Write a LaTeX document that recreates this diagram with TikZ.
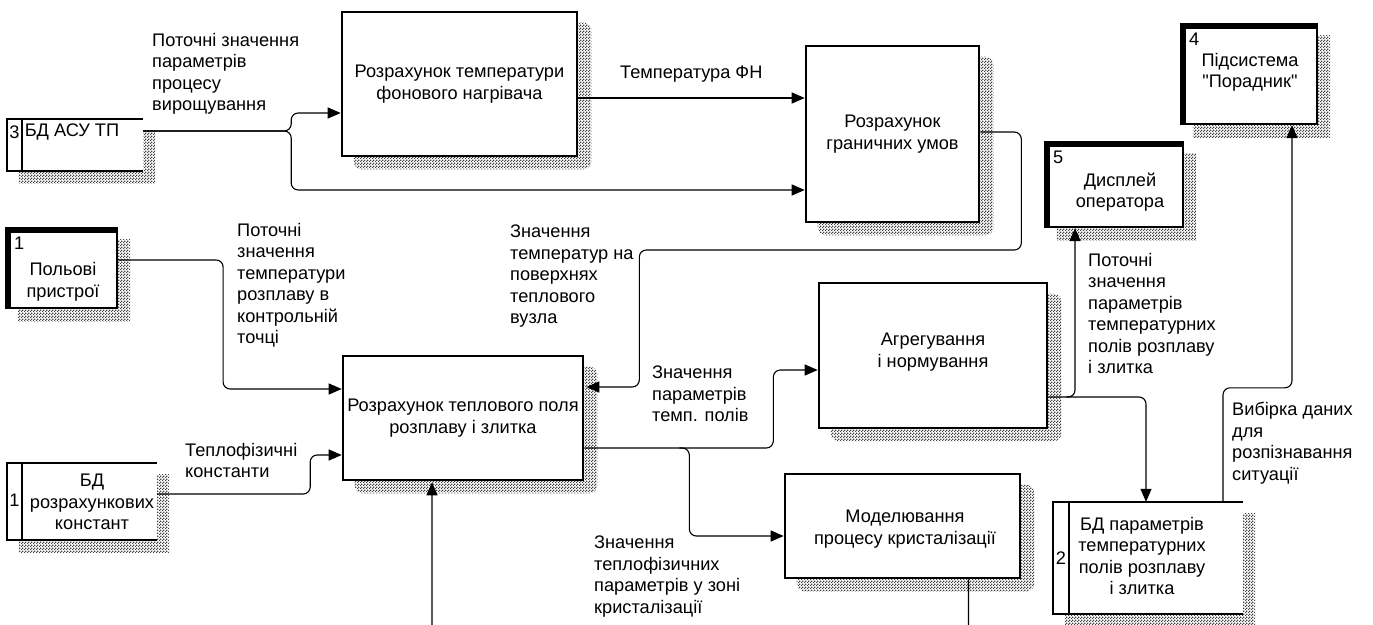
\documentclass[tikz,border=0pt]{standalone}
\usepackage{fontspec}
\setmainfont{Liberation Sans}[Ligatures=TeXOff]
\usetikzlibrary{arrows.meta,patterns,backgrounds}

% fine chequered fill used for the drop shadows
\pgfdeclarepatternformonly{shadowdots}{\pgfqpoint{0pt}{0pt}}{\pgfqpoint{3pt}{3pt}}{\pgfqpoint{3pt}{3pt}}{%
  \pgfpathrectangle{\pgfqpoint{0pt}{0pt}}{\pgfqpoint{1.5pt}{1.5pt}}%
  \pgfpathrectangle{\pgfqpoint{1.5pt}{1.5pt}}{\pgfqpoint{1.5pt}{1.5pt}}%
  \pgfusepath{fill}}

\begin{document}
\begin{tikzpicture}[
  x=1pt, y=-1pt,
  font=\fontsize{18.2}{21.5}\selectfont,
  process/.style={draw, line width=2.6pt, fill=white, inner sep=0pt, align=center},
  entity/.style={draw, line width=2.2pt, fill=white, inner sep=0pt},
  store/.style={fill=white, inner sep=0pt},
  storeline/.style={line width=2pt},
  thickedge/.style={line width=6pt},
  flow/.style={line width=1.1pt, rounded corners=7pt, -{Triangle[length=13pt,width=11pt]}},
  lbl/.style={anchor=north west, inner sep=0pt, align=left},
  txt/.style={inner sep=0pt, align=center},
  num/.style={anchor=north west, inner sep=0pt},
  shadowfill/.style={pattern=shadowdots, pattern color=black!75},
]
\useasboundingbox (0,0) rectangle (1373,624);

% ---------- processes ----------
\node[process, minimum width=235, minimum height=144] (p1) at (459.5,84)
  {Розрахунок температури\\фонового нагрівача};
\node[process, minimum width=173, minimum height=176] (p2) at (892.5,134)
  {Розрахунок\\граничних умов};
\node[process, minimum width=240, minimum height=124] (p3) at (463,418)
  {Розрахунок теплового поля\\розплаву і злитка};
\node[process, minimum width=228, minimum height=145] (p4) at (933,355.5) {};
\node[txt] (p4t) at (933,352) {Агрегування\\і нормування};
\node[process, minimum width=235, minimum height=104] (p5) at (902.5,526) {};
\node[txt] (p5t) at (905,529) {Моделювання\\процесу кристалізації};

% ---------- external entities ----------
\node[entity, minimum width=110, minimum height=79] (e1) at (62,268.5) {};
\node[entity, minimum width=137, minimum height=84] (e5) at (1114.5,185) {};
\node[entity, minimum width=135, minimum height=99] (e4) at (1249.5,74.5) {};
\foreach \e in {e1,e5,e4}
  \draw[thickedge] ([shift={(2,0)}]\e.south west) -- ([shift={(2,2)}]\e.north west)
                   -- ([shift={(0,2)}]\e.north east);
\node[num] (e1n) at ([shift={(8,9)}]e1.north west) {1};
\node[txt] (e1t) at (63,282) {Польові\\пристрої};
\node[num] (e5n) at ([shift={(8,9)}]e5.north west) {5};
\node[txt] (e5t) at (1120,192) {Дисплей\\оператора};
\node[num] (e4n) at ([shift={(8,9)}]e4.north west) {4};
\node[txt] (e4t) at (1250,72.5) {Підсистема\\"Порадник"};

% ---------- data stores ----------
\node[store, minimum width=136, minimum height=52] (d3) at (75,145) {};
\node[store, minimum width=150, minimum height=77] (d1) at (82,501.5) {};
\node[store, minimum width=190, minimum height=112] (d2) at (1148,558) {};
\foreach \d/\w in {d3/15,d1/15,d2/16} {
  \draw[storeline] (\d.north east) -- (\d.north west) -- (\d.south west) -- (\d.south east);
  \draw[storeline] ([shift={(\w,0)}]\d.north west) -- ([shift={(\w,0)}]\d.south west);
}
\node[txt] (d3n) at (14.5,132) {3};
\node[txt] (d3t) at (72,132) {БД АСУ ТП};
\node[txt] (d1n) at (14.5,500) {1};
\node[txt] (d1t) at (92,502) {БД\\розрахункових\\констант};
\node[txt] (d2n) at (1061,558) {2};
\node[txt] (d2t) at (1142,556) {БД параметрів\\температурних\\полів розплаву\\і злитка};

% ---------- shadows ----------
\begin{scope}[on background layer]
  \foreach \n in {p1,p2,p3,p4,p5}
    \fill[shadowfill, rounded corners=8pt] ([shift={(13,12)}]\n.north west) rectangle ([shift={(13,12)}]\n.south east);
  \foreach \n in {e1,e5,e4,d3,d1,d2}
    \fill[shadowfill] ([shift={(12,12)}]\n.north west) rectangle ([shift={(12,12)}]\n.south east);
\end{scope}

% ---------- flows ----------
\draw[flow] ([shift={(0,-14)}]d3.east) -- ++(148,0) |- ([shift={(0,29)}]p1.west);
\draw[flow] ([shift={(0,-14)}]d3.east) -- ++(148,0) |- ([shift={(0,56)}]p2.west);
\draw[flow] ([shift={(0,14)}]p1.east) -- ([shift={(0,-36)}]p2.west);
\draw[flow] ([shift={(0,-2)}]p2.east) -| ++(41,118) -| ++(-382,137) -- ([shift={(2,-31)}]p3.east);
\draw[flow] ([shift={(0,-8.5)}]e1.east) -| ++(105,129) -- ([shift={(0,-29)}]p3.west);
\draw[flow] ([shift={(0,-7.5)}]d1.east) -| ++(153,-39) -- ([shift={(0,37)}]p3.west);
\draw[flow] ([shift={(0,30)}]p3.east) -| ++(189,-78) -- ([shift={(0,14.5)}]p4.west);
\draw[flow] ([shift={(95,30)}]p3.east) -| ++(10,88) -- ([shift={(0,10)}]p5.west);
\begin{scope}
  \clip (0,0) rectangle (1373,624);
  \draw[flow] ([shift={(66,0)}]p5.south) -- ++(0,54) -| ([shift={(-31,1)}]p3.south);
\end{scope}
\draw[flow] ([shift={(0,41.5)}]p4.east) -| ([shift={(-2,0)}]d2.north);
\draw[flow] ([shift={(18,41.5)}]p4.east) -| ([shift={(-39.5,0)}]e5.south);
\draw[flow] ([shift={(75,0)}]d2.north) |- ++(69,-114) -- ([shift={(42.5,0)}]e4.south);

% ---------- flow labels ----------
\node[lbl] (l1) at (152,33) {Поточні значення\\параметрів\\процесу\\вирощування};
\node[lbl] (l2) at (620,66) {Температура ФН};
\node[lbl] (l3) at (237,223) {Поточні\\значення\\температури\\розплаву в\\контрольній\\точці};
\node[lbl] (l4) at (510,225) {Значення\\температур на\\поверхнях\\теплового\\вузла};
\node[lbl] (l5) at (185,443) {Теплофізичні\\константи};
\node[lbl] (l6) at (652,366) {Значення\\параметрів\\темп. полів};
\node[lbl] (l7) at (594,536) {Значення\\теплофізичних\\параметрів у зоні\\кристалізації};
\node[lbl] (l8) at (1088,253) {Поточні\\значення\\параметрів\\температурних\\полів розплаву\\і злитка};
\node[lbl] (l9) at (1232,402) {Вибірка даних\\для\\розпізнавання\\ситуації};
\end{tikzpicture}
\end{document}
